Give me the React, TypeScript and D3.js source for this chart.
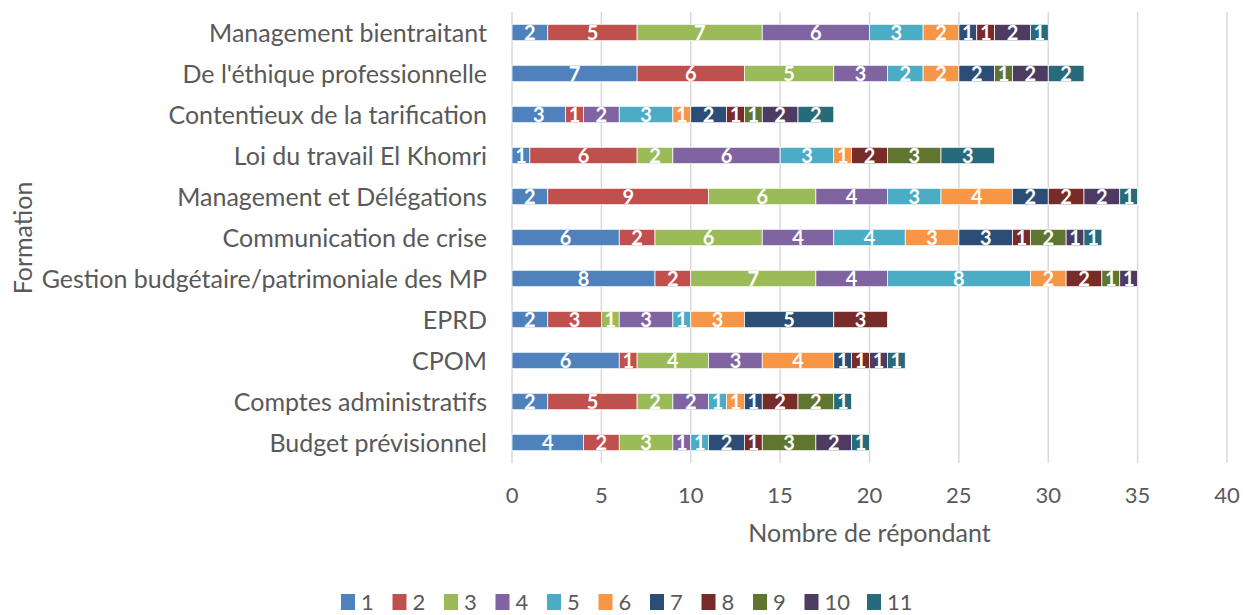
import React from 'react';
import * as d3 from 'd3';

// Formations, listed top to bottom as in the chart
const categories = [
  'Management bientraitant',
  "De l'éthique professionnelle",
  'Contentieux de la tarification',
  'Loi du travail El Khomri',
  'Management et Délégations',
  'Communication de crise',
  'Gestion budgétaire/patrimoniale des MP',
  'EPRD',
  'CPOM',
  'Comptes administratifs',
  'Budget prévisionnel',
];

const seriesNames = ['1', '2', '3', '4', '5', '6', '7', '8', '9', '10', '11'];

// one array per series (1..11), values per category in the order above
const s1 = [2, 7, 3, 1, 2, 6, 8, 2, 6, 2, 4];
const s2 = [5, 6, 1, 6, 9, 2, 2, 3, 1, 5, 2];
const s3 = [7, 5, 0, 2, 6, 6, 7, 1, 4, 2, 3];
const s4 = [6, 3, 2, 6, 4, 4, 4, 3, 3, 2, 1];
const s5 = [3, 2, 3, 3, 3, 4, 8, 1, 0, 1, 1];
const s6 = [2, 2, 1, 1, 4, 3, 2, 3, 4, 1, 0];
const s7 = [1, 2, 2, 0, 2, 3, 0, 5, 1, 1, 2];
const s8 = [1, 0, 1, 2, 2, 1, 2, 3, 1, 2, 1];
const s9 = [0, 1, 1, 3, 0, 2, 1, 0, 0, 2, 3];
const s10 = [2, 2, 2, 0, 2, 1, 1, 0, 1, 0, 2];
const s11 = [1, 2, 2, 3, 1, 1, 0, 0, 1, 1, 1];
const seriesValues = [s1, s2, s3, s4, s5, s6, s7, s8, s9, s10, s11];

const xTicks = [0, 5, 10, 15, 20, 25, 30, 35, 40];

const colors = [
  '#4F81BD', '#C0504D', '#9BBB59', '#8064A2', '#4BACC6', '#F79646',
  '#2C4D75', '#772C2A', '#5F7530', '#4D3B62', '#276A7C',
];

const W = 1243;
const H = 615;
const margin = { top: 12, left: 512, plotRight: 1227, plotBottom: 463 };
const FONT = 'Lato, sans-serif';
const TEXT = '#595959';

export default function App() {
  const innerW = margin.plotRight - margin.left;
  const innerH = margin.plotBottom - margin.top;

  const x = d3.scaleLinear().domain([0, 40]).range([0, innerW]);
  const y = d3.scaleBand<string>().domain(categories).range([0, innerH]).paddingInner(0.6).paddingOuter(0.3);

  const rows = categories.map((c, i) => {
    const o: any = { cat: c };
    seriesNames.forEach((s, k) => { o[s] = seriesValues[k][i]; });
    return o;
  });
  const stacked = d3.stack<any>().keys(seriesNames)(rows);

  // legend: square + label, advancing by label length
  let cursor = 341;
  const legendItems = seriesNames.map((s, k) => {
    const pos = cursor;
    cursor += 14 + 6 + s.length * 11 + 20.5;
    return { s, k, pos };
  });

  return (
    <svg width={W} height={H} style={{ position: 'absolute', left: 0, top: 0, background: '#fff' }} fontFamily={FONT}>
      <g transform={`translate(${margin.left},${margin.top})`}>
        {xTicks.map(t => (
          <line key={t} x1={x(t)} x2={x(t)} y1={0} y2={innerH} stroke="#d9d9d9" strokeWidth={1.5} />
        ))}
        {stacked.map((layer, k) => (
          <g key={layer.key}>
            {layer.map((d, i) => {
              const v = d[1] - d[0];
              if (v <= 0) return null;
              const yy = y(categories[i])!;
              return (
                <g key={i}>
                  <rect x={x(d[0])} y={yy} width={x(d[1]) - x(d[0])} height={y.bandwidth()}
                    fill={colors[k]} stroke="#fff" strokeWidth={0.75} />
                  <text x={(x(d[0]) + x(d[1])) / 2} y={yy + y.bandwidth() / 2} dy="0.36em"
                    textAnchor="middle" fill="#fff" fontWeight="bold" fontSize={20}>{v}</text>
                </g>
              );
            })}
          </g>
        ))}
        {categories.map(c => (
          <text key={c} x={-25} y={y(c)! + y.bandwidth() / 2} dy="0.36em" textAnchor="end"
            fill={TEXT} fontSize={25}>{c}</text>
        ))}
        {xTicks.map(t => (
          <text key={t} x={x(t)} y={483} dy="0.36em" textAnchor="middle" fill={TEXT} fontSize={22}>{t}</text>
        ))}
        <text x={innerW / 2} y={521} dy="0.36em" textAnchor="middle" fill={TEXT} fontSize={25}>Nombre de répondant</text>
      </g>
      <text transform={`translate(23,238) rotate(-90)`} dy="0.36em" textAnchor="middle" fill={TEXT} fontSize={25}>Formation</text>
      <g>
        {legendItems.map(({ s, k, pos }) => (
          <g key={s} transform={`translate(${pos},${594})`}>
            <rect x={0} y={0} width={14} height={16} fill={colors[k]} />
            <text x={20} y={8} dy="0.36em" fill={TEXT} fontSize={22}>{s}</text>
          </g>
        ))}
      </g>
    </svg>
  );
}
